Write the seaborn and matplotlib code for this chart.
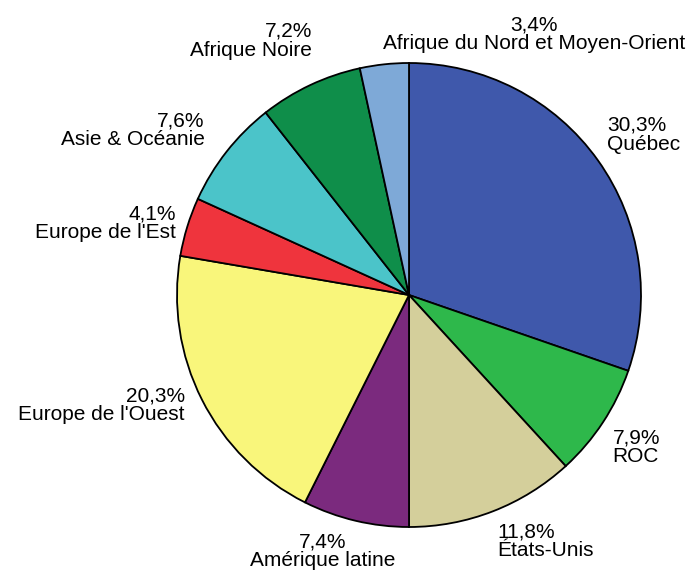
import numpy as np
import matplotlib.pyplot as plt
import seaborn as sns

# Parts of the population by region of origin (%)
regions = ["Québec", "ROC", "États-Unis", "Amérique latine", "Europe de l'Ouest",
           "Europe de l'Est", "Asie & Océanie", "Afrique Noire",
           "Afrique du Nord et Moyen-Orient"]
shares = [30.3, 7.9, 11.8, 7.4, 20.3, 4.1, 7.6, 7.2, 3.4]
colors = ["#3F58AB", "#2EB84B", "#D4CF9B", "#7B2A7E", "#F9F67B",
          "#EF343D", "#4BC4C9", "#0F8E4A", "#7EA9D7"]

sns.set_theme(style="white")
plt.rcParams['font.family'] = ['Liberation Sans', 'DejaVu Sans']

fig = plt.figure(figsize=(6.9, 5.76), dpi=100)
ax = fig.add_axes([177 / 690, 49 / 576, 464 / 690, 464 / 576])

wedges, _ = ax.pie(shares, colors=sns.color_palette(colors), startangle=90,
                   counterclock=False,
                   wedgeprops=dict(edgecolor="black", linewidth=1.3))
ax.set_xlim(-1, 1)
ax.set_ylim(-1, 1)

# small manual nudges for a few labels
nudge = {"Asie & Océanie": (-0.055, -0.02),
         "Amérique latine": (-0.13, 0.0),
         "Europe de l'Ouest": (-0.03, 0.0),
         "Afrique Noire": (0.03, 0.065)}

for w, name, val in zip(wedges, regions, shares):
    ang = np.deg2rad((w.theta1 + w.theta2) / 2)
    c, s = np.cos(ang), np.sin(ang)
    x, y = 1.05 * c, 1.05 * s
    if c > -0.15:
        ha = "left"
    elif c > -0.35:
        ha = "center"
    else:
        ha = "right"
    if s > 0.5:
        va = "bottom"
    elif s < -0.5:
        va = "top"
    else:
        va = "center"
    malign = "center" if abs(c) < 0.3 else ha
    dx, dy = nudge.get(name, (0, 0))
    label = f"{val:.1f}%".replace(".", ",") + "\n" + name
    ax.text(x + dx, y + dy, label, ha=ha, va=va, multialignment=malign,
            fontsize=15, linespacing=0.98, color="black", clip_on=False)

fig.savefig("out.png", dpi=100)
